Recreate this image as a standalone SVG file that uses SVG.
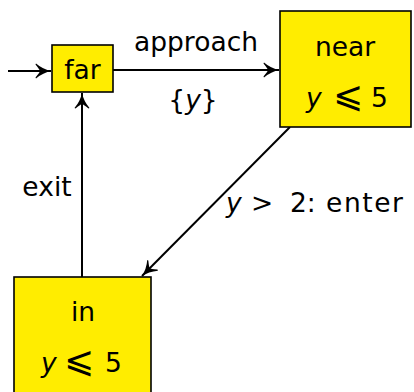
<svg xmlns="http://www.w3.org/2000/svg" width="414" height="392" viewBox="0 0 414 392">
<defs>
<marker id="ah" viewBox="0 0 18 18" refX="16" refY="9" markerWidth="18" markerHeight="18" markerUnits="userSpaceOnUse" orient="auto">
<path d="M1,1.5 Q8,7.5 16.5,9 Q8,10.5 1,16.5 L0.5,15.5 Q5,10 5,9 Q5,8 0.5,2.5 Z" fill="#000"/>
</marker>
</defs>
<style>
.box{fill:#ffed00;stroke:#000;stroke-width:1.6}
.t{font-family:"DejaVu Sans",sans-serif;font-size:26.5px;fill:#000}
.i{font-style:italic}
.m{font-size:36px}
.e{stroke:#000;stroke-width:2;fill:none;marker-end:url(#ah)}
</style>
<rect width="414" height="392" fill="#fff"/>
<g id="connectors">
<line class="e" x1="8" y1="71" x2="51" y2="71"/>
<line class="e" x1="113" y1="70" x2="279" y2="70"/>
<line class="e" x1="290" y1="127" x2="142" y2="276"/>
<line class="e" x1="82" y1="277" x2="82" y2="93"/>
<text class="t" x="196" y="51" text-anchor="middle">approach</text>
<text class="t" x="193" y="109" text-anchor="middle">{<tspan class="i">y</tspan>}</text>
<text class="t" x="47" y="196" text-anchor="middle">exit</text>
<text class="t" y="212"><tspan class="i" x="226">y</tspan><tspan x="251">&gt;</tspan><tspan x="290">2:</tspan><tspan x="326" textLength="77">enter</tspan></text>
</g>
<g id="far">
<rect class="box" x="52" y="45" width="61" height="47"/>
<text class="t" x="82.5" y="79" text-anchor="middle">far</text>
</g>
<g id="near">
<rect class="box" x="280" y="11" width="131" height="116"/>
<text class="t" x="345" y="56" text-anchor="middle">near</text>
<text class="t" y="107"><tspan class="i" x="306">y</tspan><tspan class="m" x="333">⩽</tspan><tspan x="371">5</tspan></text>
</g>
<g id="in">
<rect class="box" x="14" y="277" width="137" height="125"/>
<text class="t" x="83" y="321" text-anchor="middle">in</text>
<text class="t" y="372"><tspan class="i" x="41">y</tspan><tspan class="m" x="64">⩽</tspan><tspan x="105">5</tspan></text>
</g>
</svg>
